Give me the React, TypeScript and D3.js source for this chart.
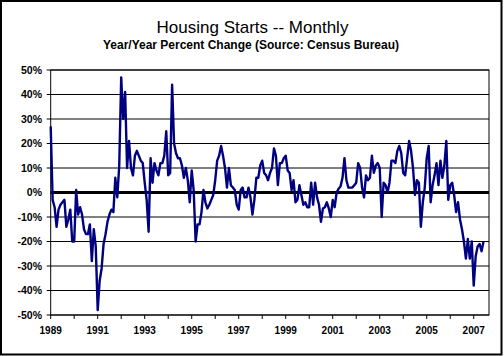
import React from 'react';
import * as d3 from 'd3';

// Housing starts, year/year % change, monthly from Jan 1989
const startYear = 1989;
const pctChange: number[] = [
  // 1989
  27, -3, -6, -14, -7, -5, -4, -3, -14, -11, -7, -20,
  // 1990
  -20, 1, -9, -6, -9, -15, -17, -17, -13, -28, -15, -22,
  // 1991
  -48, -36, -31, -21, -17, -12, -9, -7, -8, 6, -2, 11,
  // 1992
  47, 30, 41, 10, 21, 10, 7, 15, 17, 15, 13, 12,
  // 1993
  4, -3, -16, 14, 4, 12, 9, 7, 12, 12, 15, 25,
  // 1994
  7, 8, 44, 20, 16, 14, 14, 11, 6, 10, 5, -4,
  // 1995
  9, 1, -20, -13, -13, -8, 1, -4, -6.5, -5, -3, -1,
  // 1996
  5, 13, 15, 19, 15, 10, 2, 10, 3, 2, 1, -5,
  // 1997
  -7, 1, 2, -2, -2, 2, -2, -9, -3, 6, 6, 11,
  // 1998
  13, 8, 7, 5, 8, 10, 18, 15, 3, 12, 12, 14,
  // 1999
  15, 9, 8, 1, 5, -4, -3, 3, -1, -5, -4, -6,
  // 2000
  -6, 4, -5, 4, -2, -5, -12, -6.5, -6, -4, -6.5, -10,
  // 2001
  -3, -6, 0, 1.5, 2.5, 6, 14, 5, 2, 2, 2, 3,
  // 2002
  4, 12, 10, 2, -2, 7, 5, 6, 15, 8, 11, 12,
  // 2003
  10, -10, 4, 3, 0, 4, 13, 13, 12, 17, 19, 16,
  // 2004
  8, 7, 14, 21, 17, 10, -1, 5, 4, -14, -4, 2,
  // 2005
  14, 19, -4, 3, 7, 12, 3, 13, 6, 11, 21, -3,
  // 2006
  3, 4, -1, -8, -4, -11, -15, -20, -27, -19, -27, -20,
  // 2007
  -38, -26, -22, -21, -24, -20,
];

const yTickValues = [50, 40, 30, 20, 10, 0, -10, -20, -30, -40, -50];
const xTickYears = d3.range(1989, 2008);
const xLabelYears = [1989, 1991, 1993, 1995, 1997, 1999, 2001, 2003, 2005, 2007];

const titleText = 'Housing Starts -- Monthly';
const subtitleText = 'Year/Year Percent Change (Source: Census Bureau)';

export default function App() {
  const W = 504;
  const H = 356;
  const left = 50.7;
  const right = 489;
  const top = 70;
  const bottom = 315;

  const x = d3.scaleLinear().domain([0, 223.8]).range([left, right]);
  const y = d3.scaleLinear().domain([-50, 50]).range([bottom, top]);

  const line = d3
    .line<number>()
    .x((_, i) => x(i))
    .y((d) => y(d));

  const font = '"Liberation Sans", Arial, sans-serif';

  return (
    <svg
      width={W}
      height={H}
      style={{ position: 'absolute', left: 0, top: 0, background: '#fff' }}
      fontFamily={font}
    >
      <rect x={0} y={0} width={W} height={H} fill="#fff" />
      <rect x={1} y={1} width={500.5} height={353.5} fill="none" stroke="#000" strokeWidth={2} />

      <text x={252.5} y={32.5} textAnchor="middle" fontSize={17} fill="#000">
        {titleText}
      </text>
      <text x={251} y={48.5} textAnchor="middle" fontSize={12} fontWeight="bold" fill="#000">
        {subtitleText}
      </text>

      {/* gridlines */}
      {yTickValues.map((v) => (
        <line
          key={'g' + v}
          x1={left - 4}
          x2={right}
          y1={y(v)}
          y2={y(v)}
          stroke="#000"
          strokeWidth={v === 0 ? 0 : 1}
        />
      ))}

      {/* plot area border */}
      <rect x={left} y={top} width={right - left} height={bottom - top} fill="none" stroke="#000" strokeWidth={1} />

      {/* zero line */}
      <line x1={left} x2={right} y1={y(0)} y2={y(0)} stroke="#000" strokeWidth={3} />

      {/* y labels */}
      {yTickValues.map((v) => (
        <text
          key={'yl' + v}
          x={42}
          y={y(v) + 3.7}
          textAnchor="end"
          fontSize={10.5}
          fontWeight="bold"
          fill="#000"
        >
          {v + '%'}
        </text>
      ))}

      {/* x ticks */}
      {xTickYears.map((yr) => {
        const xx = x((yr - startYear) * 12);
        return <line key={'xt' + yr} x1={xx} x2={xx} y1={bottom} y2={bottom + 4} stroke="#000" strokeWidth={1} />;
      })}
      {xLabelYears.map((yr) => (
        <text
          key={'xl' + yr}
          x={x((yr - startYear) * 12)}
          y={334.3}
          textAnchor="middle"
          fontSize={10}
          fontWeight="bold"
          fill="#000"
        >
          {String(yr)}
        </text>
      ))}

      {/* data line */}
      <path d={line(pctChange) || ''} fill="none" stroke="#000080" strokeWidth={2.4} strokeLinejoin="round" />
    </svg>
  );
}
